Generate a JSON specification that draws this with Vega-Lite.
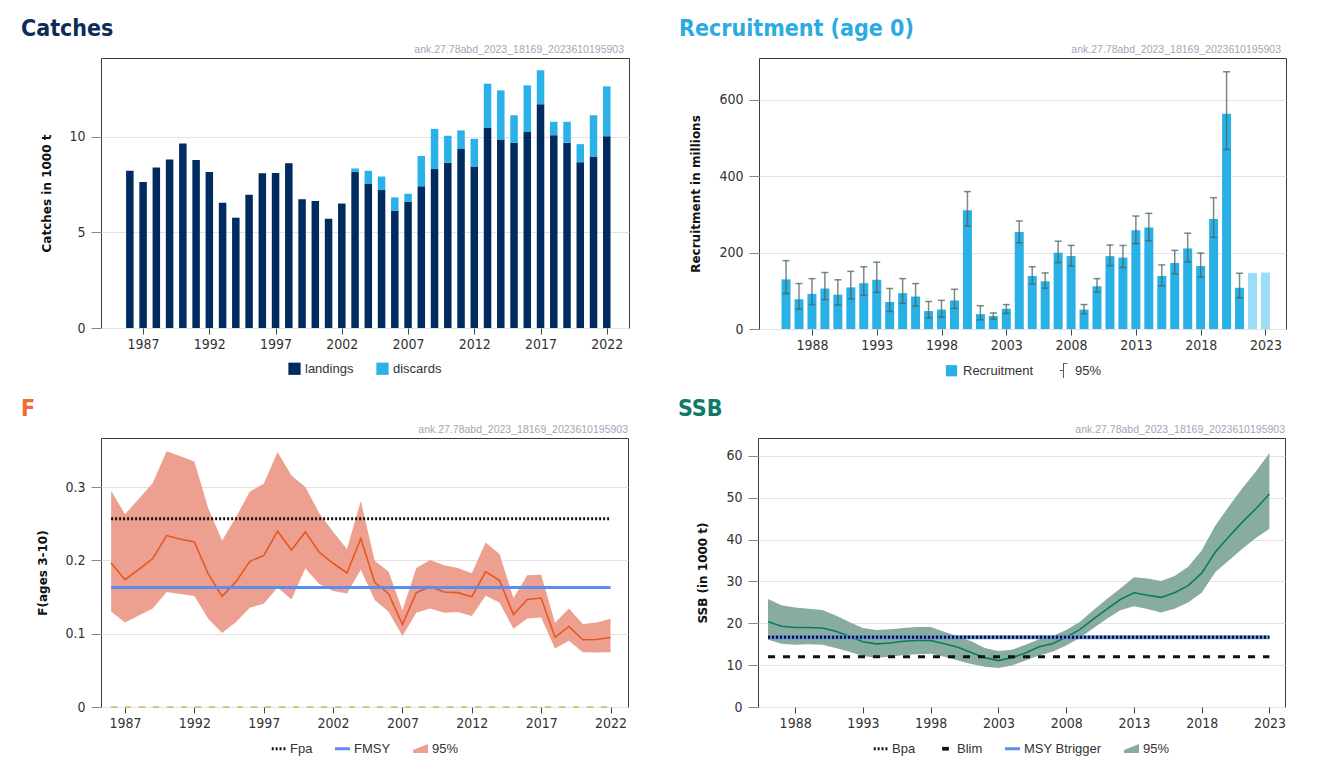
{
  "$schema": "https://vega.github.io/schema/vega-lite/v6.json",
  "background": "#ffffff",
  "padding": {"left": 20, "top": 17, "right": 10, "bottom": 2},
  "spacing": 18,
  "resolve": {"scale": {"color": "independent", "shape": "independent"}, "legend": {"color": "independent", "shape": "independent"}},
  "config": {
    "view": {"stroke": "#3a3a3a", "strokeWidth": 1},
    "axis": {"labelFont": "DejaVu Sans Condensed, Roboto Condensed, Liberation Sans Narrow, Liberation Sans", "labelFontSize": 14, "labelColor": "#333333", "labelOverlap": false, "labelFlush": false, "domain": false, "titleFont": "DejaVu Sans", "titleFontWeight": "bold", "titleFontSize": 12, "titleColor": "#111111"},
    "axisX": {"grid": false, "tickSize": 6, "tickColor": "#444444", "labelPadding": 3},
    "axisY": {"grid": true, "gridColor": "#e3e3e3", "tickSize": 10, "tickColor": "#888888", "labelPadding": 6, "titleBaseline": "middle"},
    "legend": {"orient": "bottom", "direction": "horizontal", "labelFont": "Liberation Sans", "labelFontSize": 13, "labelColor": "#333333", "columnPadding": 22, "offset": 11, "symbolStrokeWidth": 0, "layout": {"bottom": {"anchor": "middle"}}},
    "title": {"anchor": "start", "frame": "group", "dx": -80, "font": "DejaVu Sans Condensed, Roboto Condensed, Liberation Sans Narrow, Liberation Sans", "fontSize": 23, "fontWeight": "bold", "offset": 4}
  },
  "vconcat": [
    {
      "spacing": 48,
      "resolve": {"scale": {"color": "independent", "shape": "independent"}, "legend": {"color": "independent", "shape": "independent"}},
      "hconcat": [
        {
          "width": 528, "height": 270,
          "title": {"text": "Catches", "color": "#0D2C59"},
          "layer": [
            {
              "data": {"values": [
                {"year":1986,"type":"landings","value":8.21},{"year":1987,"type":"landings","value":7.63},{"year":1988,"type":"landings","value":8.38},{"year":1989,"type":"landings","value":8.80},{"year":1990,"type":"landings","value":9.63},{"year":1991,"type":"landings","value":8.77},{"year":1992,"type":"landings","value":8.15},{"year":1993,"type":"landings","value":6.54},{"year":1994,"type":"landings","value":5.76},{"year":1995,"type":"landings","value":6.96},{"year":1996,"type":"landings","value":8.08},{"year":1997,"type":"landings","value":8.10},{"year":1998,"type":"landings","value":8.61},{"year":1999,"type":"landings","value":6.73},{"year":2000,"type":"landings","value":6.63},{"year":2001,"type":"landings","value":5.71},{"year":2002,"type":"landings","value":6.50},{"year":2003,"type":"landings","value":8.15},{"year":2004,"type":"landings","value":7.54},{"year":2005,"type":"landings","value":7.21},{"year":2006,"type":"landings","value":6.13},{"year":2007,"type":"landings","value":6.59},{"year":2008,"type":"landings","value":7.40},{"year":2009,"type":"landings","value":8.30},{"year":2010,"type":"landings","value":8.63},{"year":2011,"type":"landings","value":9.37},{"year":2012,"type":"landings","value":8.44},{"year":2013,"type":"landings","value":10.47},{"year":2014,"type":"landings","value":9.84},{"year":2015,"type":"landings","value":9.67},{"year":2016,"type":"landings","value":10.23},{"year":2017,"type":"landings","value":11.69},{"year":2018,"type":"landings","value":10.07},{"year":2019,"type":"landings","value":9.68},{"year":2020,"type":"landings","value":8.66},{"year":2021,"type":"landings","value":8.95},{"year":2022,"type":"landings","value":10.02},
                {"year":2003,"type":"discards","value":0.18},{"year":2004,"type":"discards","value":0.67},{"year":2005,"type":"discards","value":0.70},{"year":2006,"type":"discards","value":0.69},{"year":2007,"type":"discards","value":0.42},{"year":2008,"type":"discards","value":1.58},{"year":2009,"type":"discards","value":2.10},{"year":2010,"type":"discards","value":1.41},{"year":2011,"type":"discards","value":0.95},{"year":2012,"type":"discards","value":1.44},{"year":2013,"type":"discards","value":2.29},{"year":2014,"type":"discards","value":2.57},{"year":2015,"type":"discards","value":1.44},{"year":2016,"type":"discards","value":2.44},{"year":2017,"type":"discards","value":1.77},{"year":2018,"type":"discards","value":0.70},{"year":2019,"type":"discards","value":1.09},{"year":2020,"type":"discards","value":0.94},{"year":2021,"type":"discards","value":2.16},{"year":2022,"type":"discards","value":2.60}
              ]},
              "mark": {"type": "bar", "width": 7.5},
              "encoding": {
                "x": {"field": "year", "type": "quantitative", "title": null, "scale": {"domain": [1984.2, 2023.3], "nice": false, "zero": false}, "axis": {"values": [1987,1992,1997,2002,2007,2012,2017,2022], "format": "d"}},
                "y": {"field": "value", "type": "quantitative", "stack": "zero", "title": "Catches in 1000 t", "scale": {"domain": [0, 14.1], "nice": false}, "axis": {"values": [0,5,10], "titleX": -55}},
                "color": {"field": "type", "type": "nominal", "scale": {"domain": ["landings","discards"], "range": ["#002B5E","#29B1E8"]}, "legend": {"title": null, "symbolType": "square", "symbolSize": 150}},
                "order": {"field": "type", "sort": "descending"}
              }
            },
            {
              "data": {"values": [{"label": "ank.27.78abd_2023_18169_2023610195903"}]},
              "mark": {"type": "text", "align": "right", "baseline": "bottom", "dy": -3, "font": "Liberation Sans", "fontSize": 10.5, "color": "#9EA8B6"},
              "encoding": {"x": {"datum": 2023.3, "type": "quantitative", "title": null}, "y": {"datum": 14.1, "type": "quantitative", "title": "Catches in 1000 t"}, "text": {"field": "label"}}
            }
          ]
        },
        {
          "width": 527, "height": 271,
          "title": {"text": "Recruitment (age 0)", "color": "#2AABE2"},
          "layer": [
            {
              "data": {"name": "rec", "values": [
                {"year":1986,"rec":130,"low":93,"high":179},{"year":1987,"rec":78,"low":52,"high":119},{"year":1988,"rec":92,"low":64,"high":132},{"year":1989,"rec":106,"low":77,"high":148},{"year":1990,"rec":90,"low":63,"high":129},{"year":1991,"rec":109,"low":79,"high":151},{"year":1992,"rec":120,"low":88,"high":163},{"year":1993,"rec":129,"low":96,"high":175},{"year":1994,"rec":71,"low":46,"high":106},{"year":1995,"rec":94,"low":67,"high":132},{"year":1996,"rec":85,"low":60,"high":119},{"year":1997,"rec":47,"low":29,"high":72},{"year":1998,"rec":51,"low":31,"high":75},{"year":1999,"rec":75,"low":54,"high":104},{"year":2000,"rec":311,"low":270,"high":360},{"year":2001,"rec":39,"low":24,"high":61},{"year":2002,"rec":34,"low":26,"high":42},{"year":2003,"rec":53,"low":41,"high":64},{"year":2004,"rec":254,"low":226,"high":283},{"year":2005,"rec":139,"low":118,"high":163},{"year":2006,"rec":125,"low":107,"high":147},{"year":2007,"rec":200,"low":174,"high":230},{"year":2008,"rec":191,"low":165,"high":219},{"year":2009,"rec":51,"low":40,"high":64},{"year":2010,"rec":112,"low":97,"high":132},{"year":2011,"rec":191,"low":166,"high":220},{"year":2012,"rec":187,"low":161,"high":219},{"year":2013,"rec":259,"low":224,"high":296},{"year":2014,"rec":266,"low":231,"high":303},{"year":2015,"rec":139,"low":113,"high":168},{"year":2016,"rec":173,"low":145,"high":206},{"year":2017,"rec":211,"low":176,"high":251},{"year":2018,"rec":165,"low":136,"high":199},{"year":2019,"rec":288,"low":240,"high":344},{"year":2020,"rec":564,"low":470,"high":674},{"year":2021,"rec":108,"low":82,"high":146},{"year":2022,"rec":147},{"year":2023,"rec":148}
              ]},
              "mark": {"type": "bar", "width": 9},
              "encoding": {
                "x": {"field": "year", "type": "quantitative", "title": null, "scale": {"domain": [1984.3, 2024.2], "nice": false, "zero": false}, "axis": {"values": [1988,1993,1998,2003,2008,2013,2018,2023], "format": "d"}},
                "y": {"field": "rec", "type": "quantitative", "title": "Recruitment in millions", "scale": {"domain": [0, 710], "nice": false}, "axis": {"values": [0,200,400,600], "titleX": -64}},
                "color": {"condition": {"test": "datum.year > 2021", "value": "#9BDDF7"}, "value": "#29B1E6"}
              }
            },
            {
              "data": {"name": "rec"},
              "mark": {"type": "rule", "color": "#4A6464", "strokeWidth": 1.5, "opacity": 0.75},
              "encoding": {"x": {"field": "year", "type": "quantitative", "title": null}, "y": {"field": "low", "type": "quantitative", "title": "Recruitment in millions"}, "y2": {"field": "high"}}
            },
            {
              "data": {"name": "rec"},
              "mark": {"type": "tick", "orient": "horizontal", "size": 7, "thickness": 1.5, "color": "#4A6464", "opacity": 0.75},
              "encoding": {"x": {"field": "year", "type": "quantitative", "title": null}, "y": {"field": "low", "type": "quantitative", "title": "Recruitment in millions"}}
            },
            {
              "data": {"name": "rec"},
              "mark": {"type": "tick", "orient": "horizontal", "size": 7, "thickness": 1.5, "color": "#4A6464", "opacity": 0.75},
              "encoding": {"x": {"field": "year", "type": "quantitative", "title": null}, "y": {"field": "high", "type": "quantitative", "title": "Recruitment in millions"}}
            },
            {
              "data": {"values": [{"label": "ank.27.78abd_2023_18169_2023610195903"}]},
              "mark": {"type": "text", "align": "right", "baseline": "bottom", "dy": -3, "font": "Liberation Sans", "fontSize": 10.5, "color": "#9EA8B6"},
              "encoding": {"x": {"datum": 2024.2, "type": "quantitative", "title": null}, "y": {"datum": 710, "type": "quantitative", "title": "Recruitment in millions"}, "text": {"field": "label"}}
            },
            {
              "data": {"values": []},
              "mark": {"type": "point", "filled": true, "opacity": 1},
              "encoding": {
                "color": {"field": "key", "type": "nominal", "scale": {"domain": ["Recruitment","95%"], "range": ["#29B1E6","#4A6464"]}, "legend": {"title": null, "symbolSize": 225}},
                "shape": {"field": "key", "type": "nominal", "scale": {"domain": ["Recruitment","95%"], "range": ["M-0.75,-0.75H0.75V0.75H-0.75Z", "M-0.07,-1H0.07V1H-0.07Z M0,-1H0.5V-0.86H0Z M-0.5,-0.07H0V0.07H-0.5Z"]}, "legend": {"title": null, "symbolSize": 225}}
              }
            }
          ]
        }
      ]
    },
    {
      "spacing": 48,
      "resolve": {"scale": {"color": "independent", "shape": "independent"}, "legend": {"color": "independent", "shape": "independent"}},
      "hconcat": [
        {
          "width": 527, "height": 269,
          "title": {"text": "F", "color": "#F26A2E"},
          "layer": [
            {
              "data": {"name": "fdata", "values": [
                {"year":1986,"f":0.1965,"low":0.1304,"high":0.295},{"year":1987,"f":0.1737,"low":0.1154,"high":0.263},{"year":1988,"f":0.1879,"low":0.125,"high":0.284},{"year":1989,"f":0.2025,"low":0.1345,"high":0.3055},{"year":1990,"f":0.2339,"low":0.1569,"high":0.349},{"year":1991,"f":0.2289,"low":0.1541,"high":0.342},{"year":1992,"f":0.2253,"low":0.1514,"high":0.335},{"year":1993,"f":0.1815,"low":0.1204,"high":0.271},{"year":1994,"f":0.1509,"low":0.1008,"high":0.227},{"year":1995,"f":0.171,"low":0.1158,"high":0.259},{"year":1996,"f":0.1988,"low":0.1354,"high":0.294},{"year":1997,"f":0.2066,"low":0.1409,"high":0.3046},{"year":1998,"f":0.2399,"low":0.1632,"high":0.348},{"year":1999,"f":0.2143,"low":0.1468,"high":0.316},{"year":2000,"f":0.2389,"low":0.1892,"high":0.300},{"year":2001,"f":0.2111,"low":0.1678,"high":0.2645},{"year":2002,"f":0.1961,"low":0.1582,"high":0.239},{"year":2003,"f":0.1829,"low":0.155,"high":0.2157},{"year":2004,"f":0.2298,"low":0.1874,"high":0.281},{"year":2005,"f":0.1701,"low":0.1459,"high":0.1997},{"year":2006,"f":0.1546,"low":0.13,"high":0.1847},{"year":2007,"f":0.1126,"low":0.0967,"high":0.132},{"year":2008,"f":0.156,"low":0.1286,"high":0.1897},{"year":2009,"f":0.1642,"low":0.1345,"high":0.2006},{"year":2010,"f":0.1569,"low":0.1286,"high":0.1933},{"year":2011,"f":0.156,"low":0.1295,"high":0.1897},{"year":2012,"f":0.1505,"low":0.124,"high":0.1824},{"year":2013,"f":0.1847,"low":0.1518,"high":0.2243},{"year":2014,"f":0.1724,"low":0.1423,"high":0.2088},{"year":2015,"f":0.1263,"low":0.1067,"high":0.1487},{"year":2016,"f":0.1468,"low":0.1208,"high":0.1797},{"year":2017,"f":0.1487,"low":0.1222,"high":0.1806},{"year":2018,"f":0.0953,"low":0.0798,"high":0.1149},{"year":2019,"f":0.1099,"low":0.0903,"high":0.1345},{"year":2020,"f":0.0917,"low":0.0748,"high":0.1131},{"year":2021,"f":0.0921,"low":0.0743,"high":0.1154},{"year":2022,"f":0.0948,"low":0.0748,"high":0.1204}
              ]},
              "mark": {"type": "area", "color": "#EDA08F", "opacity": 1},
              "encoding": {
                "x": {"field": "year", "type": "quantitative", "title": null, "scale": {"domain": [1985.27, 2023.26], "nice": false, "zero": false}, "axis": {"values": [1987,1992,1997,2002,2007,2012,2017,2022], "format": "d"}},
                "y": {"field": "low", "type": "quantitative", "title": "F(ages 3-10)", "scale": {"domain": [0, 0.367], "nice": false}, "axis": {"values": [0,0.1,0.2,0.3], "format": "~g", "titleX": -59}},
                "y2": {"field": "high"}
              }
            },
            {
              "data": {"values": [{"value": 0}]},
              "mark": {"type": "rule", "color": "#C9B75A", "strokeWidth": 1.5, "strokeDash": [6, 8]},
              "encoding": {"x": {"datum": 1986, "type": "quantitative", "title": null}, "x2": {"datum": 2022}, "y": {"field": "value", "type": "quantitative", "title": "F(ages 3-10)"}}
            },
            {
              "data": {"name": "fdata"},
              "mark": {"type": "line", "color": "#E8561F", "strokeWidth": 1.6},
              "encoding": {"x": {"field": "year", "type": "quantitative", "title": null}, "y": {"field": "f", "type": "quantitative", "title": "F(ages 3-10)"}}
            },
            {
              "data": {"values": [{"ref": "FMSY", "value": 0.163}]},
              "mark": {"type": "rule", "color": "#5B8DEF", "strokeWidth": 3},
              "encoding": {"x": {"datum": 1986, "type": "quantitative", "title": null}, "x2": {"datum": 2022}, "y": {"field": "value", "type": "quantitative", "title": "F(ages 3-10)"}}
            },
            {
              "data": {"values": [{"ref": "Fpa", "value": 0.257}]},
              "mark": {"type": "rule", "color": "#111111", "strokeWidth": 3, "strokeDash": [2, 2]},
              "encoding": {"x": {"datum": 1986, "type": "quantitative", "title": null}, "x2": {"datum": 2022}, "y": {"field": "value", "type": "quantitative", "title": "F(ages 3-10)"}}
            },
            {
              "data": {"values": [{"label": "ank.27.78abd_2023_18169_2023610195903"}]},
              "mark": {"type": "text", "align": "right", "baseline": "bottom", "dy": -3, "font": "Liberation Sans", "fontSize": 10.5, "color": "#9EA8B6"},
              "encoding": {"x": {"datum": 2023.26, "type": "quantitative", "title": null}, "y": {"datum": 0.367, "type": "quantitative", "title": "F(ages 3-10)"}, "text": {"field": "label"}}
            },
            {
              "data": {"values": []},
              "mark": {"type": "point", "filled": true, "opacity": 1},
              "encoding": {
                "color": {"field": "key", "type": "nominal", "scale": {"domain": ["Fpa","FMSY","95%"], "range": ["#111111","#5B8DEF","#EDA08F"]}, "legend": {"title": null, "symbolSize": 225}},
                "shape": {"field": "key", "type": "nominal", "scale": {"domain": ["Fpa","FMSY","95%"], "range": ["M-0.9,-0.2h0.26v0.4h-0.26z M-0.38,-0.2h0.26v0.4h-0.26z M0.14,-0.2h0.26v0.4h-0.26z M0.66,-0.2h0.26v0.4h-0.26z", "M-1,-0.2H1V0.2H-1Z", "M-1,0.55L-1,0.15L1,-0.65L1,0.55Z"]}, "legend": {"title": null, "symbolSize": 225}}
              }
            }
          ]
        },
        {
          "width": 527, "height": 269,
          "title": {"text": "SSB", "color": "#0E7B6A"},
          "layer": [
            {
              "data": {"name": "ssbdata", "values": [
                {"year":1986,"ssb":20.4,"low":16.1,"high":25.8},{"year":1987,"ssb":19.3,"low":15.1,"high":24.3},{"year":1988,"ssb":19.0,"low":14.9,"high":23.8},{"year":1989,"ssb":19.0,"low":15.0,"high":23.5},{"year":1990,"ssb":18.9,"low":14.9,"high":23.2},{"year":1991,"ssb":18.1,"low":14.1,"high":21.9},{"year":1992,"ssb":16.9,"low":13.2,"high":20.3},{"year":1993,"ssb":15.6,"low":12.2,"high":18.9},{"year":1994,"ssb":15.1,"low":11.8,"high":18.4},{"year":1995,"ssb":15.3,"low":12.0,"high":18.6},{"year":1996,"ssb":15.7,"low":12.4,"high":18.9},{"year":1997,"ssb":15.9,"low":12.6,"high":19.1},{"year":1998,"ssb":15.9,"low":12.7,"high":19.1},{"year":1999,"ssb":15.1,"low":12.0,"high":18.0},{"year":2000,"ssb":14.3,"low":11.1,"high":16.9},{"year":2001,"ssb":13.0,"low":10.3,"high":15.7},{"year":2002,"ssb":11.8,"low":9.6,"high":14.1},{"year":2003,"ssb":11.1,"low":9.3,"high":13.4},{"year":2004,"ssb":11.8,"low":9.9,"high":13.7},{"year":2005,"ssb":12.9,"low":11.1,"high":14.9},{"year":2006,"ssb":14.4,"low":12.3,"high":16.2},{"year":2007,"ssb":15.1,"low":13.2,"high":17.0},{"year":2008,"ssb":16.7,"low":14.7,"high":18.4},{"year":2009,"ssb":18.5,"low":16.5,"high":20.3},{"year":2010,"ssb":21.0,"low":18.8,"high":23.1},{"year":2011,"ssb":23.4,"low":21.1,"high":25.8},{"year":2012,"ssb":25.7,"low":23.1,"high":28.3},{"year":2013,"ssb":27.3,"low":24.1,"high":31.0},{"year":2014,"ssb":26.7,"low":23.4,"high":30.7},{"year":2015,"ssb":26.2,"low":22.6,"high":30.1},{"year":2016,"ssb":27.3,"low":23.5,"high":31.3},{"year":2017,"ssb":29.0,"low":25.0,"high":33.5},{"year":2018,"ssb":32.0,"low":27.3,"high":37.4},{"year":2019,"ssb":37.0,"low":32.2,"high":43.3},{"year":2020,"ssb":40.7,"low":35.0,"high":47.9},{"year":2021,"ssb":44.2,"low":37.8,"high":52.3},{"year":2022,"ssb":47.4,"low":40.4,"high":56.3},{"year":2023,"ssb":50.9,"low":42.6,"high":60.7}
              ]},
              "mark": {"type": "area", "color": "#88AD9F", "opacity": 1},
              "encoding": {
                "x": {"field": "year", "type": "quantitative", "title": null, "scale": {"domain": [1985.26, 2024.15], "nice": false, "zero": false}, "axis": {"values": [1988,1993,1998,2003,2008,2013,2018,2023], "format": "d"}},
                "y": {"field": "low", "type": "quantitative", "title": "SSB (in 1000 t)", "scale": {"domain": [0, 64.3], "nice": false}, "axis": {"values": [0,10,20,30,40,50,60], "titleX": -56}},
                "y2": {"field": "high"}
              }
            },
            {
              "data": {"name": "ssbdata"},
              "mark": {"type": "line", "color": "#0A7A66", "strokeWidth": 1.6},
              "encoding": {"x": {"field": "year", "type": "quantitative", "title": null}, "y": {"field": "ssb", "type": "quantitative", "title": "SSB (in 1000 t)"}}
            },
            {
              "data": {"values": [{"ref": "Blim", "value": 12.0}]},
              "mark": {"type": "rule", "color": "#111111", "strokeWidth": 3, "strokeDash": [7, 8]},
              "encoding": {"x": {"datum": 1986, "type": "quantitative", "title": null}, "x2": {"datum": 2023}, "y": {"field": "value", "type": "quantitative", "title": "SSB (in 1000 t)"}}
            },
            {
              "data": {"values": [{"ref": "MSY Btrigger", "value": 16.7}]},
              "mark": {"type": "rule", "color": "#5B8DEF", "strokeWidth": 4},
              "encoding": {"x": {"datum": 1986, "type": "quantitative", "title": null}, "x2": {"datum": 2023}, "y": {"field": "value", "type": "quantitative", "title": "SSB (in 1000 t)"}}
            },
            {
              "data": {"values": [{"ref": "Bpa", "value": 16.7}]},
              "mark": {"type": "rule", "color": "#111111", "strokeWidth": 3, "strokeDash": [2, 2]},
              "encoding": {"x": {"datum": 1986, "type": "quantitative", "title": null}, "x2": {"datum": 2023}, "y": {"field": "value", "type": "quantitative", "title": "SSB (in 1000 t)"}}
            },
            {
              "data": {"values": [{"label": "ank.27.78abd_2023_18169_2023610195903"}]},
              "mark": {"type": "text", "align": "right", "baseline": "bottom", "dy": -3, "font": "Liberation Sans", "fontSize": 10.5, "color": "#9EA8B6"},
              "encoding": {"x": {"datum": 2024.15, "type": "quantitative", "title": null}, "y": {"datum": 64.3, "type": "quantitative", "title": "SSB (in 1000 t)"}, "text": {"field": "label"}}
            },
            {
              "data": {"values": []},
              "mark": {"type": "point", "filled": true, "opacity": 1},
              "encoding": {
                "color": {"field": "key", "type": "nominal", "scale": {"domain": ["Bpa","Blim","MSY Btrigger","95%"], "range": ["#111111","#111111","#5B8DEF","#88AD9F"]}, "legend": {"title": null, "symbolSize": 225}},
                "shape": {"field": "key", "type": "nominal", "scale": {"domain": ["Bpa","Blim","MSY Btrigger","95%"], "range": ["M-0.9,-0.2h0.26v0.4h-0.26z M-0.38,-0.2h0.26v0.4h-0.26z M0.14,-0.2h0.26v0.4h-0.26z M0.66,-0.2h0.26v0.4h-0.26z", "M-0.45,-0.25H0.45V0.25H-0.45Z", "M-1,-0.2H1V0.2H-1Z", "M-1,0.55L-1,0.15L1,-0.65L1,0.55Z"]}, "legend": {"title": null, "symbolSize": 225}}
              }
            }
          ]
        }
      ]
    }
  ]
}
